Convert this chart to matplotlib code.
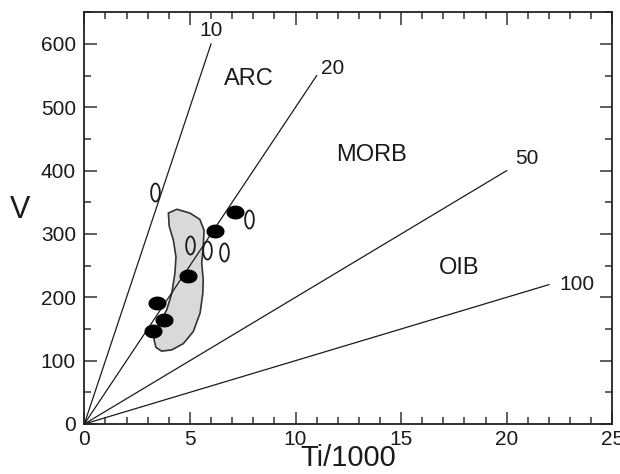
import numpy as np
import matplotlib
matplotlib.use('Agg')
import matplotlib.pyplot as plt
from matplotlib.path import Path
from matplotlib.patches import Polygon
from matplotlib.ticker import MultipleLocator

plt.rcParams['font.family'] = ['Liberation Sans', 'DejaVu Sans']

# Ti/V ratio lines: ratio, x end (Ti/1000)
ratios = [10, 20, 50, 100]
ratio_x_end = [6, 11, 20, 22]

# filled samples
filled_ti = [7.14, 6.19, 4.92, 3.46, 3.77, 3.27]
filled_v = [335, 304, 234, 191, 164, 147]

# open samples
open_ti = [3.35, 7.80, 5.00, 5.80, 6.63]
open_v = [367, 323, 283, 275, 272]

# shaded field outline
field_ti = [3.98, 4.38, 5.00, 5.47, 5.67, 5.63, 5.56, 5.63, 5.61, 5.48, 5.16, 4.69,
            4.14, 3.66, 3.39, 3.30, 3.58, 3.90, 4.14, 4.29, 4.34, 4.21, 4.02]
field_v = [333, 339, 333, 323, 306, 280, 254, 227, 206, 175, 146, 127,
           117, 115, 121, 133, 161, 180, 206, 238, 264, 291, 312]

# region names
regions = ['ARC', 'MORB', 'OIB']
region_ti = [7.8, 13.6, 17.75]
region_v = [544, 424, 247]

ink = '#1a1a1a'

fig = plt.figure(figsize=(6.2, 4.74), dpi=100)
ax = fig.add_axes([0.136, 0.1055, 0.8516, 0.8686])

# ratio lines from origin
for r, xe in zip(ratios, ratio_x_end):
    xs = np.array([0, xe])
    ax.plot(xs, xs * 1000 / r, color=ink, lw=0.9, zorder=2)
    ve = xe * 1000 / r
    if r == 10:
        ax.text(xe, ve + 7, str(r), ha='center', va='bottom', fontsize=15, color=ink)
    elif r == 20:
        ax.text(xe + 0.22, ve + 11, str(r), ha='left', va='center', fontsize=15, color=ink)
    elif r == 50:
        ax.text(xe + 0.4, ve + 19, str(r), ha='left', va='center', fontsize=15, color=ink)
    else:
        ax.text(xe + 0.5, ve, str(r), ha='left', va='center', fontsize=15, color=ink)

# shaded field
field = Polygon(np.column_stack([field_ti, field_v]), closed=True,
                facecolor='#d9d9d9', edgecolor='#333333', lw=1.2,
                joinstyle='round', zorder=1)
ax.add_patch(field)

# elliptical markers
t = np.linspace(0, 2 * np.pi, 60)
wide = Path(np.column_stack([np.cos(t), 0.75 * np.sin(t)]), closed=True)
tall = Path(np.column_stack([0.48 * np.cos(t), np.sin(t)]), closed=True)

ax.plot(filled_ti, filled_v, linestyle='none', marker=wide, markersize=12,
        color='black', zorder=4)
ax.plot(open_ti, open_v, linestyle='none', marker=tall, markersize=13,
        markerfacecolor='none', markeredgecolor=ink, markeredgewidth=1.3, zorder=4)

for name, xt, yt in zip(regions, region_ti, region_v):
    ax.text(xt, yt, name, ha='center', va='center', fontsize=17, color=ink)

ax.set_xlim(0, 25)
ax.set_ylim(0, 650)
ax.xaxis.set_major_locator(MultipleLocator(5))
ax.xaxis.set_minor_locator(MultipleLocator(1))
ax.yaxis.set_major_locator(MultipleLocator(100))
ax.yaxis.set_minor_locator(MultipleLocator(50))
ax.set_yticks(range(0, 601, 100))

ax.tick_params(which='both', direction='in', top=True, right=True,
               color='#333333', width=1.1, labelsize=15, labelcolor=ink)
ax.tick_params(which='major', length=9, pad=6)
ax.tick_params(which='minor', length=5)
ax.tick_params(axis='x', which='major', pad=4)
for sp in ax.spines.values():
    sp.set_linewidth(1.3)
    sp.set_color('#222222')

ax.set_xlabel('Ti/1000', fontsize=21, color=ink, labelpad=-3)
ax.set_ylabel('V', fontsize=22, color=ink, rotation=0, va='center')
ax.yaxis.set_label_coords(-0.122, 0.52)

fig.savefig('out.png', dpi=100)
